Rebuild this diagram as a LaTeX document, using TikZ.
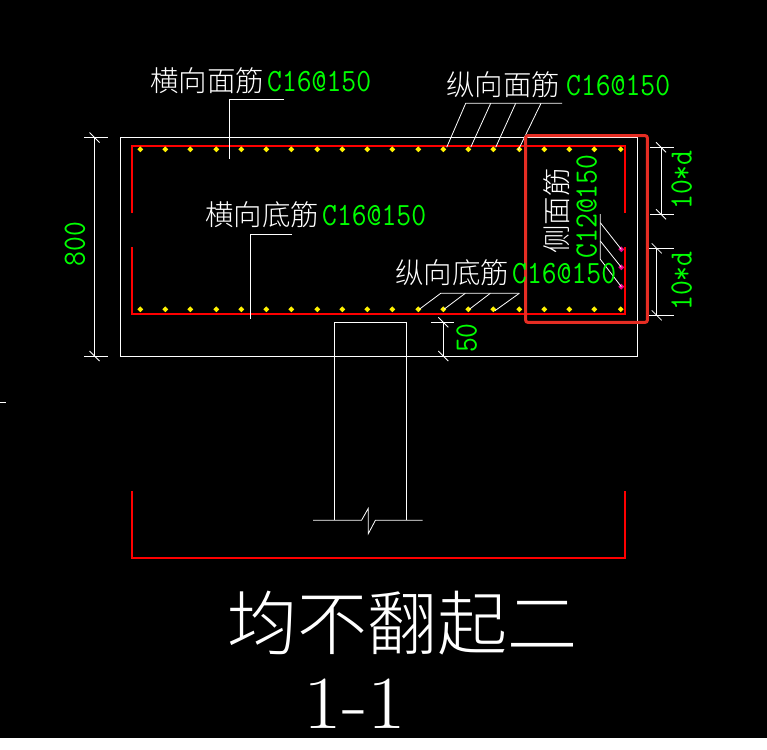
\documentclass[tikz,border=0pt]{standalone}
\usepackage{graphicx}
\usepackage{fontspec}
\newfontfamily\cjk[UprightFont=* Light]{Noto Sans CJK SC}
\newcommand{\tallbar}[1]{\scalebox{1.03}[1.16]{#1}}
\newcommand{\bardot}[2]{(#1-2.9,#2) -- (#1,#2-2.9) -- (#1+2.9,#2) -- (#1,#2+2.9) -- cycle}
\tikzset{
	cnlabel/.style={white,inner sep=0pt,font=\cjk\fontsize{28.5}{28.5}\selectfont},
	rebarlabel/.style={green,inner sep=0pt,font=\ttfamily\fontsize{28}{28}\selectfont},
	thinline/.style={white,line width=0.8pt},
	stirrup/.style={red,line width=2.3pt},
}
\begin{document}
\begin{tikzpicture}[x=1pt,y=-1pt]
\useasboundingbox (0,0) rectangle (767,749);
\fill[black] (0,0) rectangle (767,738);
\fill[white] (0,738) rectangle (767,749);
% beam and column outline
\draw[thinline] (120.5,137.5) rectangle (637.7,356);
\draw[thinline] (334.5,520.3) -- (334.5,322.3) -- (406.5,322.3) -- (406.5,520.3);
\draw[thinline] (313,520.3) -- (361.5,520.3) -- (368.3,508.3) -- (368.3,533.7) -- (375.4,520.3) -- (422.6,520.3);
\draw[thinline] (0,402.3) -- (6,402.3);
% stirrup
\draw[stirrup] (132,212.7) -- (132,146) -- (625,146) -- (625,212.7);
\draw[stirrup] (132,247) -- (132,313.7) -- (625,313.7) -- (625,247);
\draw[stirrup] (132,491) -- (132,558) -- (625,558) -- (625,491);
% bars
\foreach \x in {140.3,165.3,190.3,216.3,241.3,266.3,291.3,317.3,342.3,367.3,392.3,418.3,443.3,468.3,493.3,519.3,544.3,569.3,594.3,620.7}{
\fill[yellow] \bardot{\x}{149.3};
\fill[yellow] \bardot{\x}{309.3};
}
\foreach \y in {249.3,267.3,286.7}{
\fill[magenta] \bardot{621.3}{\y};
}
% leaders
\draw[thinline] (284,99.3) -- (229.3,99.3) -- (229.3,158.7);
\draw[thinline] (292,234.3) -- (250.3,234.3) -- (250.3,318.7);
\draw[thinline] (562,103.3) -- (465.7,103.3) -- (446.7,147.3);
\draw[thinline] (490.7,103.3) -- (470.7,147.3);
\draw[thinline] (515.7,103.3) -- (495.7,147.3);
\draw[thinline] (541,103.3) -- (518.3,150);
\draw[thinline] (519.3,293.3) -- (440.7,293.3) -- (419.3,309.3);
\draw[thinline] (465.3,293.3) -- (444,309.3);
\draw[thinline] (490.3,293.3) -- (469.3,309.3);
\draw[thinline] (519.3,293.3) -- (495,310.7);
\draw[thinline] (600.3,214) -- (600.3,259.3) -- (621.3,286.7);
\draw[thinline] (600.3,222.7) -- (621.3,249.3);
\draw[thinline] (600.3,241) -- (621.3,267.3);
% dimensions
\draw[thinline] (84,137.5) -- (108,137.5);
\draw[thinline] (84,356) -- (108,356);
\draw[thinline] (94.5,137.5) -- (94.5,356);
\foreach \x/\y in {94.5/137.5,94.5/356,661/147.3,661/214.3,656.7/248.3,656.7/315.3,443.3/322.3,443.3/356}{
\draw[thinline] (\x-5,\y-5) -- (\x+5,\y+5);
}
\draw[thinline] (650,147.3) -- (674,147.3);
\draw[thinline] (650,214.3) -- (674,214.3);
\draw[thinline] (661,147.3) -- (661,214.3);
\draw[thinline] (648,248.3) -- (674,248.3);
\draw[thinline] (648,315.3) -- (674,315.3);
\draw[thinline] (656.7,248.3) -- (656.7,315.3);
\draw[thinline] (431,322.3) -- (454,322.3);
\draw[thinline] (443.3,322.3) -- (443.3,356);
% highlight box
\draw[line width=3pt,color={rgb,255:red,230;green,45;blue,35},rounded corners=2pt] (525.7,135.7) rectangle (647.3,322.3);
% labels
\node[cnlabel,anchor=west] (topcross) at (150,81) {横向面筋};
\node[rebarlabel,anchor=west] (topcrossbar) at (267,82) {\tallbar{C16@150}};
\node[cnlabel,anchor=west] (toplong) at (446,85) {纵向面筋};
\node[rebarlabel,anchor=west] (toplongbar) at (566,86) {\tallbar{C16@150}};
\node[cnlabel,anchor=west] (botcross) at (205,215) {横向底筋};
\node[rebarlabel,anchor=west] (botcrossbar) at (322,216) {\tallbar{C16@150}};
\node[cnlabel,anchor=west] (botlong) at (395,273) {纵向底筋};
\node[rebarlabel,anchor=west] (botlongbar) at (512,274) {\tallbar{C16@150}};
\node[cnlabel,rotate=90] (side) at (556.7,211) {侧面筋};
\node[rebarlabel,rotate=90] (sidebar) at (586.7,206.5) {\tallbar{C12@150}};
\node[rebarlabel,rotate=90] (dimall) at (75,244) {\tallbar{800}};
\node[rebarlabel,rotate=90] (dimtop) at (681.7,180) {\tallbar{10*d}};
\node[rebarlabel,rotate=90] (dimbot) at (681.7,281) {\tallbar{10*d}};
\node[rebarlabel,rotate=90] (dimcover) at (466.7,338) {\tallbar{50}};
\node[cnlabel,font=\cjk\fontsize{70}{70}\selectfont] (title) at (402.5,623) {均不翻起二};
\node[white,inner sep=0pt,font=\fontsize{75}{75}\selectfont] (section) at (355,704) {\scalebox{1.12}[1]{1-1}};
\end{tikzpicture}
\end{document}
